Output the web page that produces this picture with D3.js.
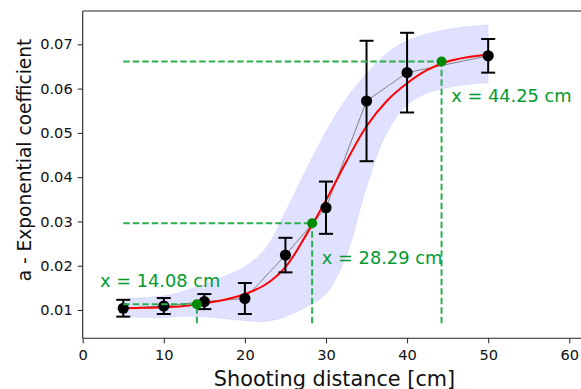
<!DOCTYPE html>
<html>
<head>
<meta charset="utf-8">
<script src="https://cdn.jsdelivr.net/npm/d3@7"></script>
<style>
  html, body { margin: 0; padding: 0; background: #fff; }
  svg { display: block; font-family: "DejaVu Sans", sans-serif; }
</style>
</head>
<body>
<svg id="chart" width="581" height="389"></svg>
<script>
// Measured coefficient per shooting distance, with standard deviation
const distances = [5, 10, 15, 20, 25, 30, 35, 40, 50];
const coefMean  = [0.0104, 0.0109, 0.0119, 0.0126, 0.0224, 0.0331, 0.0572, 0.0636, 0.0674];
const coefErr   = [0.0019, 0.0018, 0.0017, 0.0035, 0.0039, 0.0059, 0.0136, 0.0090, 0.0038];

// Fitted curve and its confidence band
const fitX      = [5, 7.5, 10, 12.5, 15, 17.5, 20, 22.5, 25, 27.5, 30, 32.5, 35, 37.5, 40, 42.5, 45, 47.5, 50];
const fitY      = [0.0104, 0.0105, 0.0106, 0.0109, 0.0115, 0.0123, 0.0136, 0.0157, 0.0197, 0.0268, 0.0348, 0.0435, 0.0515, 0.0572, 0.0612, 0.0642, 0.0661, 0.0671, 0.0677];
const bandUpper = [0.0125, 0.0128, 0.0132, 0.0143, 0.0158, 0.0176, 0.0198, 0.0238, 0.0322, 0.0415, 0.0503, 0.0577, 0.0634, 0.0680, 0.0708, 0.0724, 0.0734, 0.0740, 0.0744];
const bandLower = [0.0084, 0.0083, 0.0083, 0.0086, 0.0085, 0.0080, 0.0076, 0.0074, 0.0085, 0.0106, 0.0136, 0.0222, 0.0378, 0.0500, 0.0563, 0.0590, 0.0602, 0.0609, 0.0613];

// Characteristic distances marked on the fit
const markX = [14.08, 28.29, 44.25];
const markY = [0.0113, 0.0296, 0.0661];
const markLabels = ["x = 14.08 cm", "x = 28.29 cm", "x = 44.25 cm"];

const xTicks = [0, 10, 20, 30, 40, 50, 60];
const yTicks = [0.01, 0.02, 0.03, 0.04, 0.05, 0.06, 0.07];

const svg = d3.select("#chart");
const plotLeft = 82.7, plotRight = 586.3, plotTop = 11, plotBottom = 338.3;

const x = d3.scaleLinear().domain([0, 62.1]).range([plotLeft, plotRight]);
const y = d3.scaleLinear().domain([0.00361, 0.07752]).range([plotBottom, plotTop]);

// Confidence band
const bandData = fitX.map((v, i) => ({ x: v, lo: bandLower[i], hi: bandUpper[i] }));
svg.append("path")
  .datum(bandData)
  .attr("d", d3.area().x(d => x(d.x)).y0(d => y(d.lo)).y1(d => y(d.hi)).curve(d3.curveCatmullRom.alpha(0.5)))
  .attr("fill", "#0000ff").attr("fill-opacity", 0.12)
  .attr("stroke", "#0000ff").attr("stroke-opacity", 0.06).attr("stroke-width", 1);

// Thin line joining the measurements
const pts = distances.map((d, i) => ({ x: d, y: coefMean[i], e: coefErr[i] }));
svg.append("path")
  .datum(pts)
  .attr("d", d3.line().x(d => x(d.x)).y(d => y(d.y)))
  .attr("fill", "none").attr("stroke", "#808080").attr("stroke-width", 1);

// Fitted curve
const fitData = fitX.map((v, i) => ({ x: v, y: fitY[i] }));
svg.append("path")
  .datum(fitData)
  .attr("d", d3.line().x(d => x(d.x)).y(d => y(d.y)).curve(d3.curveCatmullRom.alpha(0.5)))
  .attr("fill", "none").attr("stroke", "#ff0000").attr("stroke-width", 2);

// Error bars
const eb = svg.append("g").attr("stroke", "#000").attr("stroke-width", 2);
pts.forEach(d => {
  eb.append("line").attr("x1", x(d.x)).attr("x2", x(d.x)).attr("y1", y(d.y - d.e)).attr("y2", y(d.y + d.e));
  eb.append("line").attr("x1", x(d.x) - 7).attr("x2", x(d.x) + 7).attr("y1", y(d.y - d.e)).attr("y2", y(d.y - d.e));
  eb.append("line").attr("x1", x(d.x) - 7).attr("x2", x(d.x) + 7).attr("y1", y(d.y + d.e)).attr("y2", y(d.y + d.e));
});
svg.append("g").selectAll("circle").data(pts).join("circle")
  .attr("cx", d => x(d.x)).attr("cy", d => y(d.y)).attr("r", 5.6).attr("fill", "#000");

// Guide lines to the characteristic distances
const guide = svg.append("g").attr("stroke", "#2bb04f").attr("stroke-width", 2).attr("stroke-dasharray", "6.5,3");
markX.forEach((mx, i) => {
  guide.append("line").attr("x1", x(5)).attr("x2", x(mx)).attr("y1", y(markY[i])).attr("y2", y(markY[i]));
  guide.append("line").attr("x1", x(mx)).attr("x2", x(mx)).attr("y1", y(0.007)).attr("y2", y(markY[i]));
});
svg.append("g").selectAll("circle").data(markX).join("circle")
  .attr("cx", d => x(d)).attr("cy", (d, i) => y(markY[i])).attr("r", 5).attr("fill", "#008a00");

// Labels for the characteristic distances
markLabels.forEach((t, i) => {
  const lx = i === 0 ? markX[i] - 11.95 : markX[i] + 1.2;
  const ly = i === 0 ? markY[i] + 0.0040 : markY[i] - 0.0091;
  svg.append("text").attr("x", x(lx)).attr("y", y(ly))
    .attr("font-size", 17.8).attr("fill", "#009a2e").text(t);
});

// Axes
const axisX = svg.append("g").attr("transform", `translate(0,${plotBottom})`)
  .call(d3.axisBottom(x).tickValues(xTicks).tickFormat(d3.format("d")).tickSize(5).tickPadding(6));
const axisY = svg.append("g").attr("transform", `translate(${plotLeft},0)`)
  .call(d3.axisLeft(y).tickValues(yTicks).tickFormat(d3.format(".2f")).tickSize(5).tickPadding(5));
[axisX, axisY].forEach(a => {
  a.select(".domain").remove();
  a.selectAll(".tick line").attr("stroke", "#222").attr("stroke-width", 1);
  a.selectAll(".tick text").attr("fill", "#111").attr("font-size", 14.6).attr("font-family", "DejaVu Sans");
});

// Spines
const spine = svg.append("g").attr("stroke", "#222").attr("stroke-width", 1.1);
spine.append("line").attr("x1", plotLeft).attr("x2", plotLeft).attr("y1", plotTop).attr("y2", plotBottom);
spine.append("line").attr("x1", plotLeft).attr("x2", plotRight).attr("y1", plotBottom).attr("y2", plotBottom);
spine.append("line").attr("x1", plotLeft).attr("x2", plotRight).attr("y1", plotTop).attr("y2", plotTop);
spine.append("line").attr("x1", plotRight).attr("x2", plotRight).attr("y1", plotTop).attr("y2", plotBottom);

// Axis titles
svg.append("text").attr("x", (plotLeft + plotRight) / 2).attr("y", 385.7).attr("text-anchor", "middle")
  .attr("font-size", 20.8).attr("fill", "#111").text("Shooting distance [cm]");
svg.append("text").attr("transform", "translate(31,160) rotate(-90)").attr("text-anchor", "middle")
  .attr("font-size", 18.6).attr("fill", "#111").text("a - Exponential coefficient");
</script>
</body>
</html>
